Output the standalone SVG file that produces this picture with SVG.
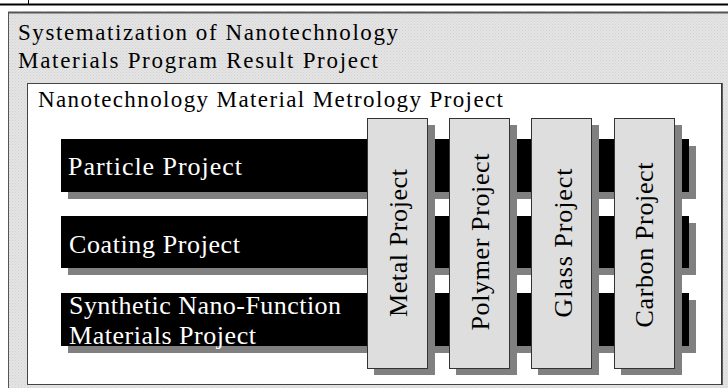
<svg xmlns="http://www.w3.org/2000/svg" width="728" height="388" viewBox="0 0 728 388">
<defs>
<pattern id="dots" width="3" height="3" patternUnits="userSpaceOnUse">
<rect width="3" height="3" fill="#e4e4e4"/>
<rect x="0" y="0" width="1" height="1" fill="#d2d2d2"/>
<rect x="1.5" y="1.5" width="1" height="1" fill="#d6d6d6"/>
</pattern>
<style>
.hdr{font-family:"Liberation Serif","Times New Roman",serif;font-size:23px;fill:#000}
.bar{fill:#000}
.shd{fill:#808080}
.btx{font-family:"Liberation Serif","Times New Roman",serif;font-size:26px;fill:#fff}
.col{fill:#dedede;stroke:#333;stroke-width:1}
.ctx{font-family:"Liberation Serif","Times New Roman",serif;font-size:26px;fill:#000;text-anchor:middle}
</style>
</defs>
<rect width="728" height="388" fill="#fff"/>
<line x1="0" y1="4.5" x2="728" y2="4.5" stroke="#000" stroke-width="2"/>
<line x1="28.5" y1="0" x2="28.5" y2="5" stroke="#000" stroke-width="1"/>

<g id="outer">
<rect x="8.5" y="12.5" width="730" height="385" fill="url(#dots)" stroke="#555" stroke-width="1"/>
<line x1="8" y1="12.5" x2="728" y2="12.5" stroke="#555" stroke-width="2"/>
<text class="hdr" x="18" y="40" textLength="380" lengthAdjust="spacing">Systematization of Nanotechnology</text>
<text class="hdr" x="18" y="68" textLength="360" lengthAdjust="spacing">Materials Program Result Project</text>
</g>

<g id="inner">
<rect x="27.5" y="83.5" width="694" height="301" fill="#fff" stroke="#444" stroke-width="1"/>
<line x1="722" y1="83" x2="722" y2="385" stroke="#333" stroke-width="1.5"/>
<text class="hdr" x="38" y="107" textLength="465" lengthAdjust="spacing">Nanotechnology Material Metrology Project</text>
</g>

<g id="particle">
<rect class="shd" x="68" y="146" width="628" height="53"/>
<rect class="bar" x="61" y="139" width="628" height="53"/>
<text class="btx" x="68" y="175" textLength="174" lengthAdjust="spacing">Particle Project</text>
</g>
<g id="coating">
<rect class="shd" x="68" y="223" width="628" height="52"/>
<rect class="bar" x="61" y="216" width="628" height="52"/>
<text class="btx" x="69" y="253" textLength="171" lengthAdjust="spacing">Coating Project</text>
</g>
<g id="synthetic">
<rect class="shd" x="68" y="300" width="628" height="53"/>
<rect class="bar" x="61" y="293" width="628" height="53"/>
<text class="btx" x="69" y="314" textLength="272" lengthAdjust="spacing">Synthetic Nano-Function</text>
<text class="btx" x="69" y="344" textLength="187" lengthAdjust="spacing">Materials Project</text>
</g>

<g id="metal">
<rect class="shd" x="374" y="125" width="61" height="250"/>
<rect class="col" x="367.5" y="118.5" width="60" height="250"/>
<text class="ctx" transform="translate(407,243) rotate(-90)" textLength="148" lengthAdjust="spacing">Metal Project</text>
</g>
<g id="polymer">
<rect class="shd" x="456" y="125" width="61" height="250"/>
<rect class="col" x="449.5" y="118.5" width="60" height="250"/>
<text class="ctx" transform="translate(489,242) rotate(-90)" textLength="177" lengthAdjust="spacing">Polymer Project</text>
</g>
<g id="glass">
<rect class="shd" x="538" y="125" width="61" height="250"/>
<rect class="col" x="531.5" y="118.5" width="60" height="250"/>
<text class="ctx" transform="translate(572,243) rotate(-90)" textLength="149" lengthAdjust="spacing">Glass Project</text>
</g>
<g id="carbon">
<rect class="shd" x="621" y="125" width="61" height="250"/>
<rect class="col" x="614.5" y="118.5" width="60" height="250"/>
<text class="ctx" transform="translate(653,245) rotate(-90)" textLength="165" lengthAdjust="spacing">Carbon Project</text>
</g>
<g id="connectors"/>
</svg>
